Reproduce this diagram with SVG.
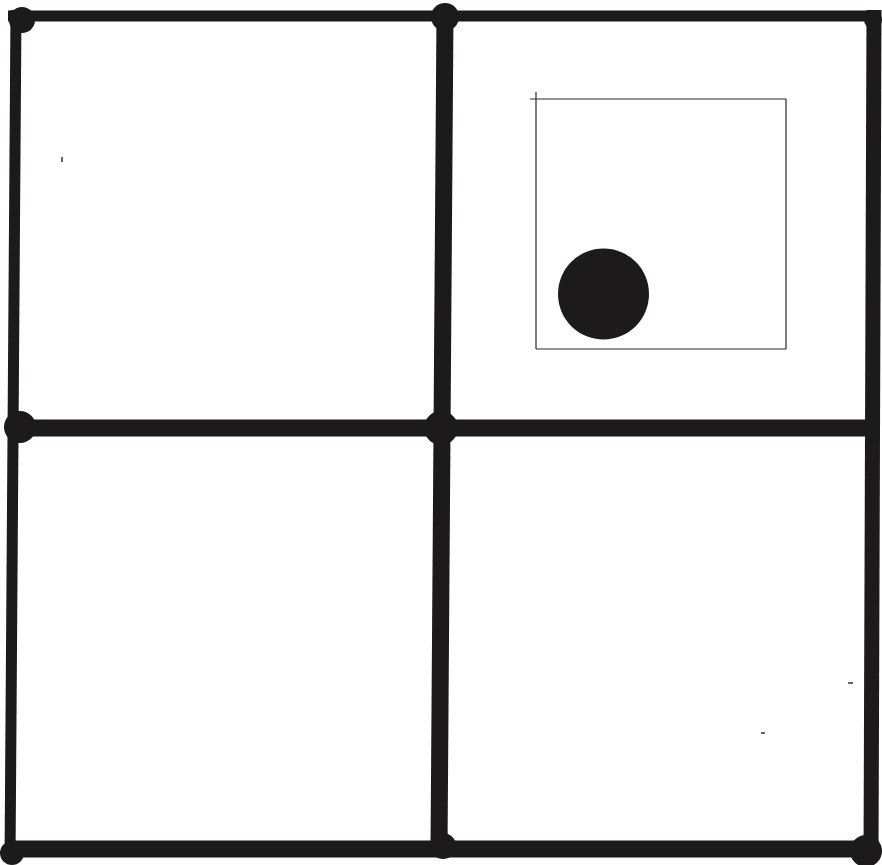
<svg xmlns="http://www.w3.org/2000/svg" width="882" height="865" viewBox="0 0 882 865">
<style>
.bar{stroke:#1c1a1b;stroke-linecap:butt;fill:none}
.dot{fill:#1c1a1b}
.thin{stroke:#2a2a2a;stroke-width:1.2;fill:none}
.speck{stroke:#333;stroke-width:1.5}
</style>
<rect width="882" height="865" fill="#ffffff"/>
<g id="connectors">
<line class="bar" x1="8" y1="16" x2="876" y2="16" stroke-width="11"/>
<line class="bar" x1="16" y1="10" x2="10" y2="862" stroke-width="11"/>
<line class="bar" x1="874" y1="10" x2="871" y2="860" stroke-width="15"/>
<line class="bar" x1="445" y1="12" x2="439" y2="850" stroke-width="17"/>
<line class="bar" x1="12" y1="428" x2="880" y2="428" stroke-width="17"/>
<line class="bar" x1="6" y1="849" x2="876" y2="849" stroke-width="17"/>
</g>
<g id="node-tl"><circle class="dot" cx="22" cy="20" r="13"/></g>
<g id="node-tm"><circle class="dot" cx="445" cy="17" r="14"/></g>
<g id="node-tr"><circle class="dot" cx="873" cy="20" r="9"/></g>
<g id="node-ml"><circle class="dot" cx="20" cy="427" r="16"/></g>
<g id="node-c"><circle class="dot" cx="441" cy="428" r="17"/></g>
<g id="node-bl"><circle class="dot" cx="12" cy="853" r="12"/></g>
<g id="node-bm"><circle class="dot" cx="443" cy="846" r="13"/></g>
<g id="node-br"><circle class="dot" cx="866" cy="851" r="16"/></g>
<g id="inner">
<line class="thin" x1="536" y1="92" x2="536" y2="349"/>
<line class="thin" x1="530" y1="99" x2="786" y2="99"/>
<line class="thin" x1="786" y1="99" x2="786" y2="349"/>
<line class="thin" x1="536" y1="349" x2="786" y2="349"/>
<circle class="dot" cx="603.5" cy="294" r="45.5"/>
</g>
<g id="specks">
<line class="speck" x1="62" y1="157" x2="62" y2="162"/>
<line class="speck" x1="848" y1="683" x2="853" y2="683"/>
<line class="speck" x1="761" y1="733" x2="765" y2="733"/>
</g>
</svg>
